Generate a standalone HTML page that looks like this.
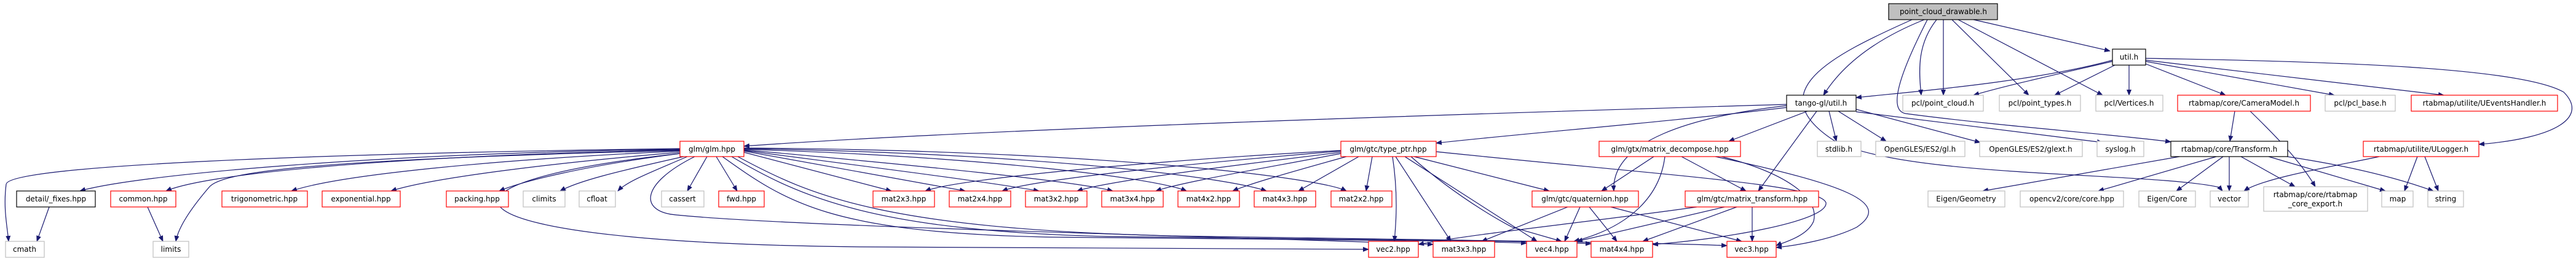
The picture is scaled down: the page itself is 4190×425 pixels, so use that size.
<!DOCTYPE html>
<html><head><meta charset="utf-8"><style>
html,body{margin:0;padding:0;background:#fff;}
svg{display:block}
text{font-family:"DejaVu Sans","Liberation Sans",sans-serif;font-size:12px;fill:#000;text-anchor:middle}
.e{fill:none;stroke:#191970;stroke-width:1.2;marker-end:url(#a)}
.r{fill:#fff;stroke:#ff0000;stroke-width:1.2}
.g{fill:#fff;stroke:#bfbfbf;stroke-width:1.2}
.k{fill:#fff;stroke:#000;stroke-width:1.2}
</style></head><body>
<svg width="4190" height="425" viewBox="0 0 4190 425">
<defs><marker id="a" viewBox="0 0 10 10" refX="9" refY="5" markerWidth="10" markerHeight="10" orient="auto" markerUnits="userSpaceOnUse"><path d="M0,1 L10,5 L0,9 z" fill="#191970"/></marker></defs>
<g>
<path class="e" d="M3130,32 C3060,60 3000,100 2966,155"/>
<path class="e" d="M3150,32 C3120,70 3120,110 3125,155"/>
<path class="e" d="M3161,32 L3161,155"/>
<path class="e" d="M3175,32 L3300,155"/>
<path class="e" d="M3185,32 L3420,155"/>
<path class="e" d="M3210,32 L3432,83"/>
<path class="e" d="M3110,32 C2980,90 2860,150 2985,230 C3100,290 3500,280 3610,305 L3615,311"/>
<path class="e" d="M3135,32 C3090,120 3070,180 3100,185 C3250,205 3450,220 3531,231"/>
<path class="e" d="M3436,98 C3300,135 3100,150 3019,159"/>
<path class="e" d="M3436,100 C3350,120 3260,140 3210,155"/>
<path class="e" d="M3440,106 L3342,155"/>
<path class="e" d="M3463,106 L3463,155"/>
<path class="e" d="M3490,104 L3620,155"/>
<path class="e" d="M3490,100 L3797,155"/>
<path class="e" d="M3490,98 L3975,155"/>
<path class="e" d="M3490,95 C3800,100 4100,110 4170,150 C4210,190 4160,225 4032,235"/>
<path class="e" d="M2906,170 C2400,185 1600,210 1210,238"/>
<path class="e" d="M2906,175 C2700,200 2500,215 2336,233"/>
<path class="e" d="M2940,181 L2812,230"/>
<path class="e" d="M2906,172 C2750,190 2620,230 2625,311"/>
<path class="e" d="M2955,181 L2860,311"/>
<path class="e" d="M2975,181 L2987,230"/>
<path class="e" d="M2990,181 L3068,230"/>
<path class="e" d="M3019,178 L3221,232"/>
<path class="e" d="M3019,182 L3420,232"/>
<path class="e" d="M3635,181 L3627,230"/>
<path class="e" d="M3660,181 C3700,220 3740,260 3766,304"/>
<path class="e" d="M3545,255 L3225,311"/>
<path class="e" d="M3605,255 L3413,311"/>
<path class="e" d="M3616,255 L3540,311"/>
<path class="e" d="M3626,255 L3626,311"/>
<path class="e" d="M3645,255 L3733,304"/>
<path class="e" d="M3690,255 L3880,311"/>
<path class="e" d="M3720,255 C3820,270 3900,290 3958,311"/>
<path class="e" d="M3870,255 C3800,270 3680,290 3650,311"/>
<path class="e" d="M3932,255 L3911,311"/>
<path class="e" d="M3944,255 L3966,311"/>
<path class="e" d="M1106,242 C500,250 14,270 10,300 C5,340 12,370 14,393"/>
<path class="e" d="M1106,243 C600,250 220,285 130,311"/>
<path class="e" d="M1106,244 C600,255 330,285 270,311"/>
<path class="e" d="M1106,245 C500,260 360,280 340,305 C310,340 290,370 286,393"/>
<path class="e" d="M1106,246 C800,260 550,285 474,311"/>
<path class="e" d="M1106,248 C900,265 700,290 636,311"/>
<path class="e" d="M1106,250 C950,270 850,295 812,311"/>
<path class="e" d="M1112,255 C1000,280 940,295 911,311"/>
<path class="e" d="M1118,255 C1060,280 1020,295 1005,311"/>
<path class="e" d="M1150,255 L1118,311"/>
<path class="e" d="M1165,255 L1199,311"/>
<path class="e" d="M1106,250 C650,300 700,395 1400,402 C1800,405 2100,406 2226,406"/>
<path class="e" d="M1130,255 C1040,300 1040,345 1100,350 C1300,370 2000,385 2331,398"/>
<path class="e" d="M1175,255 C1280,330 1350,378 1700,386 C2100,390 2400,392 2483,396"/>
<path class="e" d="M1190,255 C1300,320 1420,376 1800,385 C2200,390 2500,392 2588,397"/>
<path class="e" d="M1200,255 C1320,320 1440,372 1900,384 C2300,390 2700,395 2809,400"/>
<path class="e" d="M1210,248 L1450,311"/>
<path class="e" d="M1210,246 L1570,311"/>
<path class="e" d="M1210,245 C1400,270 1600,295 1690,311"/>
<path class="e" d="M1210,244 C1500,270 1750,295 1810,311"/>
<path class="e" d="M1210,243 C1600,255 1880,290 1930,311"/>
<path class="e" d="M1210,242 C1700,250 2000,290 2060,311"/>
<path class="e" d="M1210,241 C1800,245 2150,290 2190,311"/>
<path class="e" d="M2181,245 C1900,260 1560,290 1505,311"/>
<path class="e" d="M2181,246 C1950,265 1680,292 1630,311"/>
<path class="e" d="M2181,248 C2000,270 1800,295 1752,311"/>
<path class="e" d="M2181,250 C2050,275 1920,297 1880,311"/>
<path class="e" d="M2190,255 C2100,280 2030,300 2005,311"/>
<path class="e" d="M2210,255 L2112,311"/>
<path class="e" d="M2232,255 L2222,311"/>
<path class="e" d="M2300,255 L2520,311"/>
<path class="e" d="M2265,255 C2275,320 2270,370 2268,393"/>
<path class="e" d="M2270,255 L2360,393"/>
<path class="e" d="M2285,255 L2500,393"/>
<path class="e" d="M2295,255 C2380,330 2460,370 2460,370 L2540,393"/>
<path class="e" d="M2336,247 C2700,285 2960,300 2970,330 C2975,360 2800,390 2688,398"/>
<path class="e" d="M2690,255 L2605,311"/>
<path class="e" d="M2735,255 L2840,311"/>
<path class="e" d="M2708,255 C2700,320 2650,370 2560,393"/>
<path class="e" d="M2800,255 C2900,280 2960,320 2950,360 C2940,385 2900,395 2889,400"/>
<path class="e" d="M2790,255 C3000,300 3080,330 3020,370 C2980,390 2920,400 2889,403"/>
<path class="e" d="M2550,337 L2410,393"/>
<path class="e" d="M2570,337 L2545,393"/>
<path class="e" d="M2585,337 L2630,393"/>
<path class="e" d="M2620,337 L2833,393"/>
<path class="e" d="M2760,337 C2600,360 2400,380 2307,398"/>
<path class="e" d="M2805,337 L2565,393"/>
<path class="e" d="M2825,337 L2672,393"/>
<path class="e" d="M2850,337 L2850,393"/>
<path class="e" d="M80,337 L60,393"/>
<path class="e" d="M240,337 L265,393"/>
</g>
<g>
<rect class="k" x="3072" y="6" width="177" height="26" style="fill:#bfbfbf"/><text x="3161" y="23">point_cloud_drawable.h</text>
<rect class="k" x="3436" y="80" width="54" height="26"/><text x="3463" y="97">util.h</text>
<rect class="k" x="2906" y="155" width="113" height="26"/><text x="2962" y="172">tango-gl/util.h</text>
<rect class="g" x="3095" y="155" width="131" height="26"/><text x="3160" y="172">pcl/point_cloud.h</text>
<rect class="g" x="3252" y="155" width="132" height="26"/><text x="3318" y="172">pcl/point_types.h</text>
<rect class="g" x="3409" y="155" width="109" height="26"/><text x="3463" y="172">pcl/Vertices.h</text>
<rect class="r" x="3542" y="155" width="216" height="26"/><text x="3650" y="172">rtabmap/core/CameraModel.h</text>
<rect class="g" x="3782" y="155" width="114" height="26"/><text x="3839" y="172">pcl/pcl_base.h</text>
<rect class="r" x="3922" y="155" width="238" height="26"/><text x="4041" y="172">rtabmap/utilite/UEventsHandler.h</text>
<rect class="r" x="1106" y="230" width="104" height="25"/><text x="1158" y="247">glm/glm.hpp</text>
<rect class="r" x="2181" y="230" width="155" height="25"/><text x="2258" y="247">glm/gtc/type_ptr.hpp</text>
<rect class="r" x="2601" y="230" width="230" height="25"/><text x="2716" y="247">glm/gtx/matrix_decompose.hpp</text>
<rect class="g" x="2956" y="230" width="71" height="25"/><text x="2991" y="247">stdlib.h</text>
<rect class="g" x="3051" y="230" width="145" height="25"/><text x="3123" y="247">OpenGLES/ES2/gl.h</text>
<rect class="g" x="3220" y="230" width="167" height="25"/><text x="3303" y="247">OpenGLES/ES2/glext.h</text>
<rect class="g" x="3411" y="230" width="76" height="25"/><text x="3449" y="247">syslog.h</text>
<rect class="k" x="3531" y="230" width="190" height="25"/><text x="3626" y="247">rtabmap/core/Transform.h</text>
<rect class="r" x="3844" y="230" width="188" height="25"/><text x="3938" y="247">rtabmap/utilite/ULogger.h</text>
<rect class="k" x="27" y="311" width="128" height="26"/><text x="91" y="328">detail/_fixes.hpp</text>
<rect class="r" x="180" y="311" width="106" height="26"/><text x="233" y="328">common.hpp</text>
<rect class="r" x="361" y="311" width="139" height="26"/><text x="430" y="328">trigonometric.hpp</text>
<rect class="r" x="524" y="311" width="127" height="26"/><text x="587" y="328">exponential.hpp</text>
<rect class="r" x="726" y="311" width="101" height="26"/><text x="776" y="328">packing.hpp</text>
<rect class="g" x="851" y="311" width="68" height="26"/><text x="885" y="328">climits</text>
<rect class="g" x="942" y="311" width="59" height="26"/><text x="971" y="328">cfloat</text>
<rect class="g" x="1076" y="311" width="69" height="26"/><text x="1110" y="328">cassert</text>
<rect class="r" x="1169" y="311" width="74" height="26"/><text x="1206" y="328">fwd.hpp</text>
<rect class="r" x="1420" y="311" width="100" height="26"/><text x="1470" y="328">mat2x3.hpp</text>
<rect class="r" x="1544" y="311" width="100" height="26"/><text x="1594" y="328">mat2x4.hpp</text>
<rect class="r" x="1668" y="311" width="100" height="26"/><text x="1718" y="328">mat3x2.hpp</text>
<rect class="r" x="1792" y="311" width="100" height="26"/><text x="1842" y="328">mat3x4.hpp</text>
<rect class="r" x="1916" y="311" width="100" height="26"/><text x="1966" y="328">mat4x2.hpp</text>
<rect class="r" x="2040" y="311" width="100" height="26"/><text x="2090" y="328">mat4x3.hpp</text>
<rect class="r" x="2165" y="311" width="99" height="26"/><text x="2214" y="328">mat2x2.hpp</text>
<rect class="r" x="2492" y="311" width="173" height="26"/><text x="2578" y="328">glm/gtc/quaternion.hpp</text>
<rect class="r" x="2741" y="311" width="217" height="26"/><text x="2850" y="328">glm/gtc/matrix_transform.hpp</text>
<rect class="g" x="3136" y="311" width="125" height="26"/><text x="3198" y="328">Eigen/Geometry</text>
<rect class="g" x="3286" y="311" width="168" height="26"/><text x="3370" y="328">opencv2/core/core.hpp</text>
<rect class="g" x="3479" y="311" width="92" height="26"/><text x="3525" y="328">Eigen/Core</text>
<rect class="g" x="3595" y="311" width="62" height="26"/><text x="3626" y="328">vector</text>
<rect class="g" x="3682" y="304" width="169" height="40"/><text x="3766" y="321">rtabmap/core/rtabmap</text><text x="3766" y="336">_core_export.h</text>
<rect class="g" x="3874" y="311" width="51" height="26"/><text x="3900" y="328">map</text>
<rect class="g" x="3949" y="311" width="58" height="26"/><text x="3978" y="328">string</text>
<rect class="g" x="9" y="393" width="63" height="26"/><text x="40" y="410">cmath</text>
<rect class="g" x="249" y="393" width="58" height="26"/><text x="278" y="410">limits</text>
<rect class="r" x="2226" y="393" width="81" height="26"/><text x="2266" y="410">vec2.hpp</text>
<rect class="r" x="2331" y="393" width="100" height="26"/><text x="2381" y="410">mat3x3.hpp</text>
<rect class="r" x="2483" y="393" width="82" height="26"/><text x="2524" y="410">vec4.hpp</text>
<rect class="r" x="2588" y="393" width="100" height="26"/><text x="2638" y="410">mat4x4.hpp</text>
<rect class="r" x="2809" y="393" width="80" height="26"/><text x="2849" y="410">vec3.hpp</text>
</g>
</svg>
</body></html>
